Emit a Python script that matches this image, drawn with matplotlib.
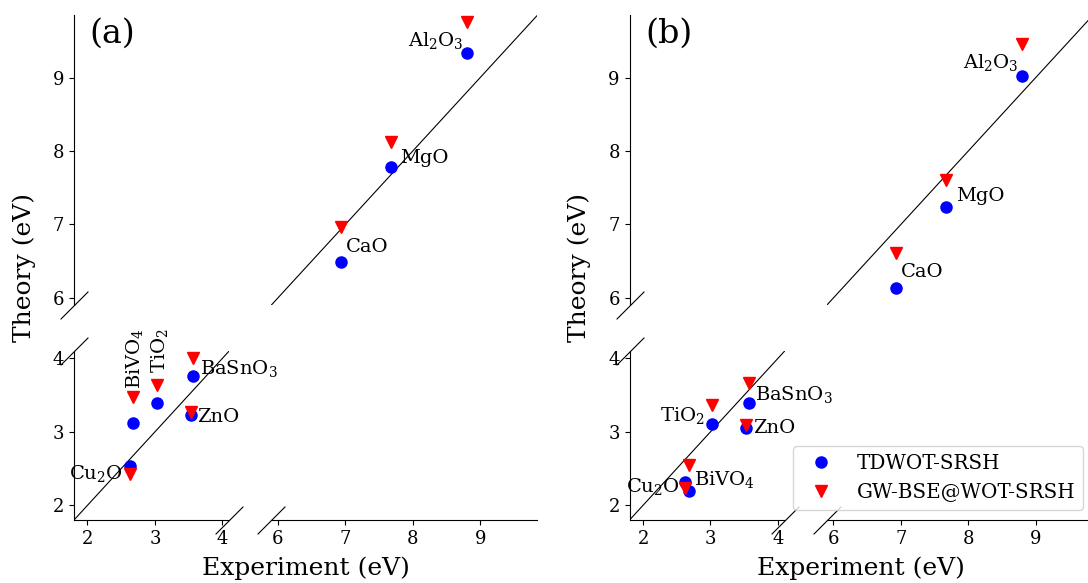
import matplotlib.pyplot as plt

plt.rcParams["font.family"] = "DejaVu Serif"
plt.rcParams["mathtext.fontset"] = "dejavuserif"

# ---------------- data ----------------
materials = ["Cu$_2$O", "BiVO$_4$", "TiO$_2$", "ZnO", "BaSnO$_3$", "CaO", "MgO", "Al$_2$O$_3$"]
experiment = [2.63, 2.68, 3.03, 3.53, 3.57, 6.93, 7.67, 8.80]

# panel (a)
tdwot_a = [2.53, 3.12, 3.39, 3.23, 3.76, 6.49, 7.78, 9.33]
gwbse_a = [2.43, 3.47, 3.64, 3.27, 4.01, 6.96, 8.12, 9.76]

# panel (b)
tdwot_b = [2.32, 2.19, 3.11, 3.05, 3.39, 6.13, 7.24, 9.02]
gwbse_b = [2.24, 2.55, 3.37, 3.10, 3.66, 6.61, 7.60, 9.46]

low_lim = (1.8, 4.1)
high_lim = (5.9, 9.85)
low_ticks = [2, 3, 4]
high_ticks = [6, 7, 8, 9]

# label placement: (dx, dy) in points from the TDWOT point, ha, rotation
labels_a = [((-4.8, -8.9), "right", 0), ((4.8, 24.8), "left", 90), ((6.0, 21.6), "left", 90),
            ((5.0, -4.8), "left", 0), ((4.8, 1.2), "left", 0), ((3.9, 7.2), "left", 0),
            ((7.2, 3.2), "left", 0), ((-2.0, 5.3), "right", 0)]
labels_b = [((-4.1, -7.2), "right", 0), ((3.6, 4.3), "left", 0), ((-5.5, 1.9), "right", 0),
            ((4.8, -3.6), "left", 0), ((4.3, 2.4), "left", 0), ((3.6, 8.4), "left", 0),
            ((7.2, 4.5), "left", 0), ((-2.4, 6.0), "right", 0)]


def break_mark(ax, x, y):
    ax.plot([x], [y], transform=ax.transAxes, marker=[(-1, -1), (1, 1)],
            markersize=20, linestyle="none", color="k", mec="k", mew=0.8, clip_on=False)


def draw_panel(fig, left, right, theory_td, theory_gw, labels, tag, legend=False):
    gs = fig.add_gridspec(2, 2, left=left, right=right, top=0.974, bottom=0.108,
                          width_ratios=[2.3, 3.95], height_ratios=[3.95, 2.3],
                          wspace=0.2, hspace=0.2)
    ax_tl = fig.add_subplot(gs[0, 0])
    ax_tr = fig.add_subplot(gs[0, 1])
    ax_bl = fig.add_subplot(gs[1, 0])
    ax_br = fig.add_subplot(gs[1, 1])

    for ax in (ax_tl, ax_tr, ax_bl, ax_br):
        ax.patch.set_visible(False)
        ax.plot([0, 11], [0, 11], color="k", lw=0.8)
        ax.plot(experiment, theory_td, "o", color="blue", ms=8, ls="none", label="TDWOT-SRSH")
        ax.plot(experiment, theory_gw, "v", color="red", ms=8, ls="none", label="GW-BSE@WOT-SRSH")
        for s in ax.spines.values():
            s.set_visible(False)
        ax.tick_params(labelsize=13)

    for ax in (ax_tl, ax_tr):
        ax.set_ylim(high_lim)
        ax.set_xticks([])
    for ax in (ax_bl, ax_br):
        ax.set_ylim(low_lim)
    for ax in (ax_tl, ax_bl):
        ax.set_xlim(low_lim)
    for ax in (ax_tr, ax_br):
        ax.set_xlim(high_lim)
        ax.set_yticks([])

    ax_tl.spines["left"].set_visible(True)
    ax_tl.set_yticks(high_ticks)
    ax_bl.spines["left"].set_visible(True)
    ax_bl.spines["bottom"].set_visible(True)
    ax_bl.set_yticks(low_ticks)
    ax_bl.set_xticks(low_ticks)
    ax_br.spines["bottom"].set_visible(True)
    ax_br.set_xticks(high_ticks)

    break_mark(ax_tl, 0, 0)
    break_mark(ax_bl, 0, 1)
    break_mark(ax_bl, 1, 0)
    break_mark(ax_br, 0, 0)

    for name, x, y, (off, ha, rot) in zip(materials, experiment, theory_td, labels):
        ax = ax_bl if x < 5 else ax_tr
        ax.annotate(name, (x, y), xytext=off, textcoords="offset points",
                    ha=ha, va="baseline", rotation=rot, rotation_mode="anchor", fontsize=14)

    ax_tl.text(0.1, 0.99, tag, transform=ax_tl.transAxes, fontsize=24, va="top", ha="left")

    if legend:
        ax_br.legend(loc="lower right", fontsize=14.3)

    mid = (left + right) / 2
    fig.text(mid, 0.025, "Experiment (eV)", ha="center", va="center", fontsize=18)
    fig.text(left - 50 / 1088, (0.974 + 0.108) / 2, "Theory (eV)", rotation=90,
             ha="center", va="center", fontsize=18)


fig = plt.figure(figsize=(10.88, 5.83), dpi=100)
draw_panel(fig, 0.068, 0.494, tdwot_a, gwbse_a, labels_a, "(a)")
draw_panel(fig, 0.5786, 1.0046, tdwot_b, gwbse_b, labels_b, "(b)", legend=True)
fig.savefig("out.png", dpi=100)
